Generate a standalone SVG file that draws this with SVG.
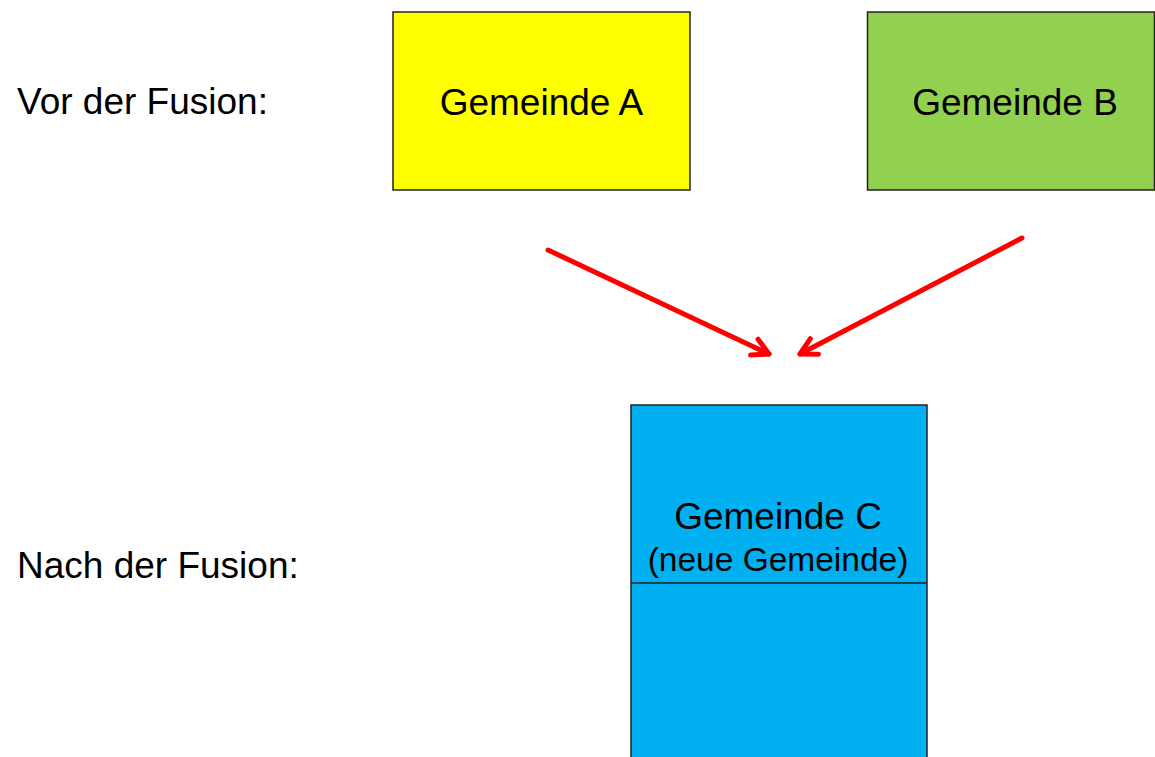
<svg xmlns="http://www.w3.org/2000/svg" width="1155" height="757" viewBox="0 0 1155 757">
<style>
.box{stroke:#222;stroke-width:1.5}
.t{font-family:"Liberation Sans",Arial,sans-serif;fill:#000}
.arr{stroke:#ff0000;stroke-width:5;fill:none;stroke-linecap:round;stroke-linejoin:round}
</style>
<defs>
<marker id="ah" viewBox="0 0 20 20" refX="18" refY="10" markerWidth="5" markerHeight="5" markerUnits="strokeWidth" orient="auto">
<path d="M5,3 L18,10 L5,17" fill="none" stroke="#ff0000" stroke-width="4" stroke-linecap="round" stroke-linejoin="round"/>
</marker>
</defs>
<rect width="1155" height="757" fill="#fff"/>
<text class="t" x="17" y="114" font-size="37">Vor der Fusion:</text>
<text class="t" x="17" y="578" font-size="37">Nach der Fusion:</text>
<g id="nodeA">
<rect class="box" x="393" y="12" width="297" height="178" fill="#ffff00"/>
<text class="t" x="541.5" y="115" font-size="37" text-anchor="middle">Gemeinde A</text>
</g>
<g id="nodeB">
<rect class="box" x="867.5" y="12" width="287" height="178" fill="#92d050"/>
<text class="t" x="1015" y="115" font-size="37" text-anchor="middle">Gemeinde B</text>
</g>
<g id="nodeC">
<rect class="box" x="631" y="405" width="296" height="360" fill="#00b0f0"/>
<line class="box" x1="631" y1="583" x2="927" y2="583"/>
<text class="t" x="778" y="529" font-size="37" text-anchor="middle">Gemeinde C</text>
<text class="t" x="778" y="571" font-size="33.5" text-anchor="middle">(neue Gemeinde)</text>
</g>
<g id="connectors">
<line class="arr" x1="548" y1="250" x2="769" y2="354" marker-end="url(#ah)"/>
<line class="arr" x1="1022" y1="238" x2="800" y2="354" marker-end="url(#ah)"/>
</g>
</svg>
